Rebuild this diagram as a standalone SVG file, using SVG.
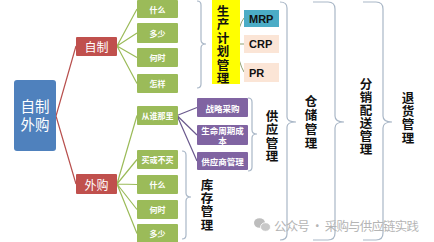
<svg xmlns="http://www.w3.org/2000/svg" width="434" height="242" viewBox="0 0 434 242">
<style>
text{font-family:"Noto Sans CJK SC","Liberation Sans",sans-serif;text-anchor:middle;dominant-baseline:central}
.g{fill:#9bbb59}
.gt{fill:#fff;font-size:8px;font-weight:bold}
.p{fill:#8064a2}
.pt{fill:#fff;font-size:8.5px;font-weight:bold}
.r{fill:#c0504d}
.rt{fill:#fff;font-size:12px}
.v{fill:#111;font-size:12.5px;font-weight:bold}
.br{fill:none;stroke:#a9b7c7;stroke-width:1.2}
.lr{stroke:#b8504e;stroke-width:1.2;fill:none}
.lg{stroke:#9bbb59;stroke-width:1.2;fill:none}
.lp{stroke:#6b5a8e;stroke-width:1.2;fill:none}
.ly{stroke:#8f9f73;stroke-width:1;fill:none}
.en{font-family:"Liberation Sans",Arial,sans-serif;font-weight:bold;font-size:11px;fill:#111;text-anchor:start}
</style>
<rect width="434" height="242" fill="#fff"/>
<g id="connectors">
<path class="lr" d="M56,116 L76,46 M56,116 L76,184"/>
<path class="lg" d="M117,46 L137,9 M117,46 L137,33 M117,46 L137,57.5 M117,46 L137,83.5"/>
<path class="lg" d="M117,184 L137,115.5 M117,184 L137,159.5 M117,184 L137,184.5 M117,184 L137,209.5 M117,184 L137,233.5"/>
<path class="lp" d="M177,115.5 L197,107.5 M177,115.5 L197,135 M177,115.5 L197,161"/>
<path class="ly" d="M236,44 Q239,24 244,18 M236,44 L244,44 M236,44 Q239,64 244,72"/>
<path class="br" d="M197,1 Q201,1 201,5 L201,40 Q201,44 206,44 Q201,44 201,48 L201,84 Q201,88 197,88"/>
<path class="br" d="M248,98 Q252,98 252,102 L252,130 Q252,134 257,134 Q252,134 252,138 L252,167 Q252,171 248,171"/>
<path class="br" d="M182,151 Q186,151 186,155 L186,193 Q186,197 191,197 Q186,197 186,201 L186,235 Q186,239 182,239"/>
<path class="br" d="M280,2 Q287,2 287,8 L287,117 Q287,122 296,122 Q287,122 287,127 L287,234 Q287,240 280,240"/>
<path class="br" d="M313,2 L328,2 Q335,2 335,9 L335,116 Q335,122 344,122 Q335,122 335,128 L335,233 Q335,240 328,240 L313,240"/>
<path class="br" d="M363,2 L376,2 Q383,2 383,9 L383,116 Q383,122 392,122 Q383,122 383,128 L383,233 Q383,240 376,240 L363,240"/>
</g>
<g id="root"><rect x="14" y="80" width="42" height="71" rx="3" fill="#4f81bd"/><text x="35" y="105" fill="#fff" font-size="14.5">自制</text><text x="35" y="123.5" fill="#fff" font-size="14.5">外购</text></g>
<g id="zizhi"><rect class="r" x="76" y="37" width="41" height="19" rx="1"/><text class="rt" x="96.5" y="46.5">自制</text></g>
<g id="waigou"><rect class="r" x="76" y="174" width="41" height="20" rx="1"/><text class="rt" x="96.5" y="184">外购</text></g>
<g id="z1"><rect class="g" x="137" y="0" width="41" height="18" rx="1"/><text class="gt" x="157.5" y="9">什么</text></g>
<g id="z2"><rect class="g" x="137" y="23" width="41" height="20" rx="1"/><text class="gt" x="157.5" y="33">多少</text></g>
<g id="z3"><rect class="g" x="137" y="48" width="41" height="19" rx="1"/><text class="gt" x="157.5" y="57.5">何时</text></g>
<g id="z4"><rect class="g" x="137" y="74" width="41" height="19" rx="1"/><text class="gt" x="157.5" y="83.5">怎样</text></g>
<g id="w1"><rect class="g" x="137" y="106" width="41" height="19" rx="1"/><text class="gt" x="157.5" y="115.5">从谁那里</text></g>
<g id="w2"><rect class="g" x="137" y="150" width="41" height="19" rx="1"/><text class="gt" x="157.5" y="159.5">买或不买</text></g>
<g id="w3"><rect class="g" x="137" y="175" width="41" height="19" rx="1"/><text class="gt" x="157.5" y="184.5">什么</text></g>
<g id="w4"><rect class="g" x="137" y="200" width="41" height="19" rx="1"/><text class="gt" x="157.5" y="209.5">何时</text></g>
<g id="w5"><rect class="g" x="137" y="224" width="41" height="19" rx="1"/><text class="gt" x="157.5" y="233.5">多少</text></g>
<g id="p1"><rect class="p" x="197" y="98" width="51" height="19" rx="1"/><text class="pt" x="222.5" y="107.5">战略采购</text></g>
<g id="p2"><rect class="p" x="197" y="125" width="51" height="20" rx="1"/><text class="pt" x="222.5" y="130.3" font-size="8">生命周期成</text><text class="pt" x="222.5" y="139.7" font-size="8">本</text></g>
<g id="p3"><rect class="p" x="197" y="152" width="51" height="18" rx="1"/><text class="pt" x="222.5" y="161">供应商管理</text></g>
<g id="scjh"><rect x="212" y="0" width="28" height="84" fill="#ffff00"/>
<text class="v" x="223" y="10">生</text><text class="v" x="223" y="23.5">产</text><text class="v" x="223" y="37">计</text><text class="v" x="223" y="50.5">划</text><text class="v" x="223" y="64">管</text><text class="v" x="223" y="77.5">理</text></g>
<g id="mrp"><rect x="244" y="10" width="35" height="17" fill="#4bacc6"/><text class="en" x="249" y="18.5">MRP</text></g>
<g id="crp"><rect x="244" y="35" width="35" height="18" fill="#fbe5d6"/><text class="en" x="249" y="44">CRP</text></g>
<g id="pr"><rect x="244" y="63" width="35" height="19" fill="#fbe5d6"/><text class="en" x="249" y="72.5">PR</text></g>
<g id="gygl"><text class="v" x="272" y="115">供</text><text class="v" x="272" y="128.5">应</text><text class="v" x="272" y="142">管</text><text class="v" x="272" y="155.5">理</text></g>
<g id="kcgl"><text class="v" x="207" y="184">库</text><text class="v" x="207" y="197.3">存</text><text class="v" x="207" y="210.6">管</text><text class="v" x="207" y="224">理</text></g>
<g id="ccgl"><text class="v" x="311" y="100">仓</text><text class="v" x="311" y="114">储</text><text class="v" x="311" y="128">管</text><text class="v" x="311" y="142">理</text></g>
<g id="fxps"><text class="v" x="366" y="83">分</text><text class="v" x="366" y="96">销</text><text class="v" x="366" y="109">配</text><text class="v" x="366" y="122">送</text><text class="v" x="366" y="135">管</text><text class="v" x="366" y="148">理</text></g>
<g id="thgl"><text class="v" x="408" y="97">退</text><text class="v" x="408" y="110.3">货</text><text class="v" x="408" y="123.6">管</text><text class="v" x="408" y="137">理</text></g>
<g id="watermark">
<ellipse cx="259.5" cy="223" rx="5.5" ry="4.8" fill="#bdbdbd"/>
<ellipse cx="265.5" cy="227" rx="5" ry="4.3" fill="#c8c8c8" stroke="#fff" stroke-width="0.8"/>
<text x="346.5" y="225" font-size="12.5" fill="#b5b5b5" textLength="145">公众号 · 采购与供应链实践</text>
</g>
</svg>
